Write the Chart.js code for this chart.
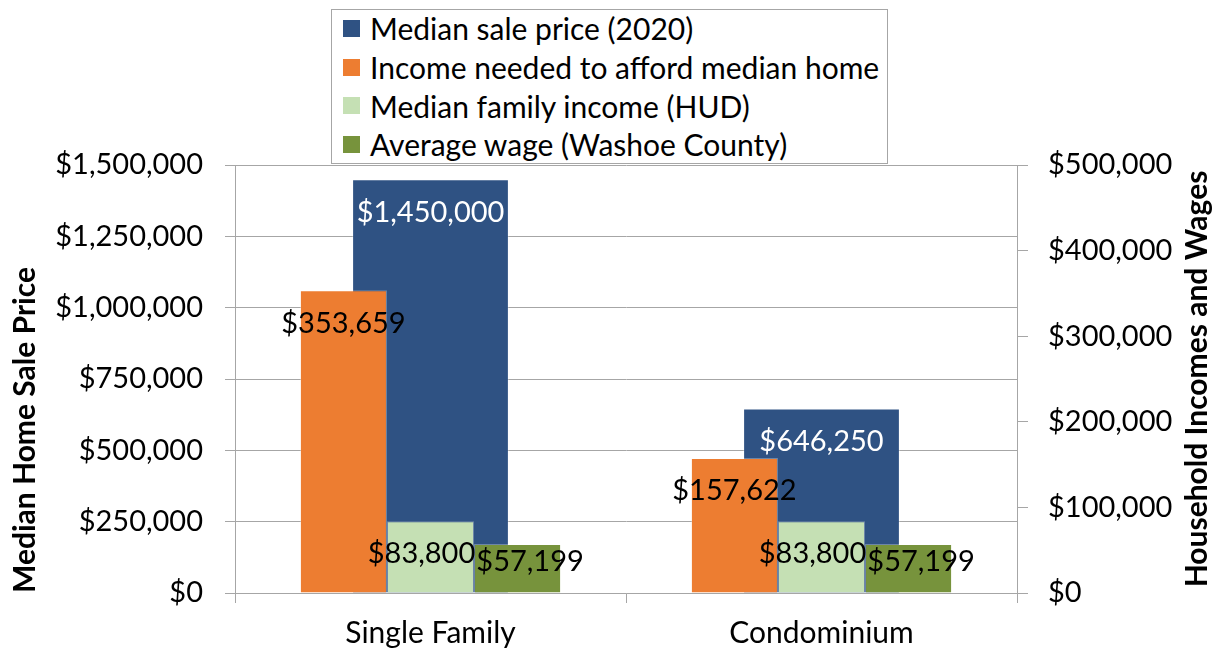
<!DOCTYPE html>
<html><head><meta charset="utf-8">
<script src="https://cdn.jsdelivr.net/npm/chart.js@4.4.1/dist/chart.umd.min.js"></script>
<style>
html,body{margin:0;padding:0;background:#fff;}
#wrap{position:relative;width:1221px;height:652px;}
#legend{position:absolute;left:331px;top:9px;width:557px;height:155px;border:1px solid #A6A6A6;background:#fff;box-sizing:border-box;font-family:Lato,sans-serif;font-size:30px;color:#000;padding-top:0;}
.item{display:flex;align-items:center;height:38.7px;white-space:nowrap;}
.item:first-child{margin-top:-1px;}
.sw{width:17px;height:17px;margin-left:11px;margin-right:10px;flex:none;}
</style></head>
<body>
<div id="wrap"><canvas id="c" width="1221" height="652"></canvas><div id="legend"></div></div>
<script>
const categories = ['Single Family', 'Condominium'];
const seriesNames = ['Median sale price (2020)', 'Income needed to afford median home', 'Median family income (HUD)', 'Average wage (Washoe County)'];
const medianSalePrice = [1450000, 646250];
const incomeNeeded = [353659, 157622];
const medianFamilyIncome = [83800, 83800];
const averageWage = [57199, 57199];
const leftTicks = [0, 250000, 500000, 750000, 1000000, 1250000, 1500000];
const rightTicks = [0, 100000, 200000, 300000, 400000, 500000];
const seriesColors = ['#2F5283', '#ED7D31', '#C5E0B4', '#77933C'];

const fmt = v => '$' + v.toLocaleString('en-US');
const GRID = '#A6A6A6';
const TICK_FONT = {family: 'Lato', size: 29};
const EDGE = 'rgba(255,255,255,0.3)';

const legendEl = document.getElementById('legend');
seriesNames.forEach((n, i) => {
  const d = document.createElement('div'); d.className = 'item';
  d.innerHTML = '<span class="sw" style="background:' + seriesColors[i] + '"></span><span>' + n + '</span>';
  legendEl.appendChild(d);
});

const labelPlugin = {
  id: 'barLabels',
  afterDatasetsDraw(chart) {
    const ctx = chart.ctx;
    chart.data.datasets.forEach((ds, i) => {
      const meta = chart.getDatasetMeta(i);
      const off = ds.labelOffset || {x: 0, y: 0};
      meta.data.forEach((bar, j) => {
        ctx.save();
        ctx.font = '29px Lato';
        ctx.fillStyle = ds.labelColor || '#000';
        ctx.textAlign = 'center';
        ctx.textBaseline = 'middle';
        ctx.fillText(fmt(ds.data[j]), bar.x + off.x, bar.y + off.y);
        ctx.restore();
      });
    });
  },
  afterDraw(chart) {
    const ctx = chart.ctx, a = chart.chartArea;
    ctx.save();
    ctx.font = 'bold 30px Lato';
    ctx.fillStyle = '#000';
    ctx.textAlign = 'center';
    ctx.textBaseline = 'middle';
    ctx.translate(1197, (a.top + a.bottom) / 2);
    ctx.rotate(-Math.PI / 2);
    ctx.fillText('Household Incomes and Wages', 0, 0);
    ctx.restore();
  }
};

function build() {
  new Chart(document.getElementById('c'), {
    type: 'bar',
    data: {
      labels: categories,
      datasets: [
        {label: seriesNames[0], data: medianSalePrice, backgroundColor: seriesColors[0], borderColor: EDGE, borderWidth: 1, yAxisID: 'y', order: 1,
         grouped: false, categoryPercentage: 1, barPercentage: 0.401, labelColor: '#fff', labelOffset: {x: 0, y: 33}},
        {label: seriesNames[1], data: incomeNeeded, backgroundColor: seriesColors[1], borderColor: EDGE, borderWidth: 1, yAxisID: 'y2',
         categoryPercentage: 0.668, barPercentage: 1, labelOffset: {x: 0, y: 33}},
        {label: seriesNames[2], data: medianFamilyIncome, backgroundColor: seriesColors[2], borderColor: EDGE, borderWidth: 1, yAxisID: 'y2',
         categoryPercentage: 0.668, barPercentage: 1, labelOffset: {x: -9, y: 32}},
        {label: seriesNames[3], data: averageWage, backgroundColor: seriesColors[3], borderColor: EDGE, borderWidth: 1, yAxisID: 'y2',
         categoryPercentage: 0.668, barPercentage: 1, labelOffset: {x: 12.5, y: 17.5}}
      ]
    },
    options: {
      responsive: false,
      animation: false,
      layout: {padding: {top: 165, left: 0, right: 0, bottom: 0}},
      plugins: {legend: {display: false}, tooltip: {enabled: false}},
      scales: {
        x: {
          position: 'bottom', offset: true,
          grid: {offset: true, drawOnChartArea: false, drawTicks: true, tickLength: 10, color: GRID},
          border: {display: true, color: GRID},
          ticks: {font: {family: 'Lato', size: 30}, color: '#000', padding: 12, maxRotation: 0},
          afterFit: s => { s.height = 59; }
        },
        y: {
          position: 'left', min: 0, max: 1500000,
          afterBuildTicks: s => { s.ticks = leftTicks.map(v => ({value: v})); },
          grid: {color: GRID, drawTicks: true, tickLength: 10},
          border: {display: true, color: GRID},
          ticks: {font: TICK_FONT, color: '#000', padding: 22, callback: v => fmt(v)},
          title: {display: true, text: 'Median Home Sale Price', align: 'start', color: '#000',
                  font: {family: 'Lato', size: 30, weight: 'bold'}, padding: {top: 7, bottom: 0}},
          afterFit: s => { s.width = 235; }
        },
        y2: {
          position: 'right', min: 0, max: 500000,
          afterBuildTicks: s => { s.ticks = rightTicks.map(v => ({value: v})); },
          grid: {drawOnChartArea: false, drawTicks: true, tickLength: 11, color: GRID},
          border: {display: true, color: GRID},
          ticks: {font: TICK_FONT, color: '#000', padding: 20, callback: v => fmt(v)},
          afterFit: s => { s.width = 204; }
        }
      }
    },
    plugins: [labelPlugin]
  });
}
Promise.all([document.fonts.load('29px Lato'), document.fonts.load('bold 30px Lato')]).then(build, build);
</script>
</body></html>
